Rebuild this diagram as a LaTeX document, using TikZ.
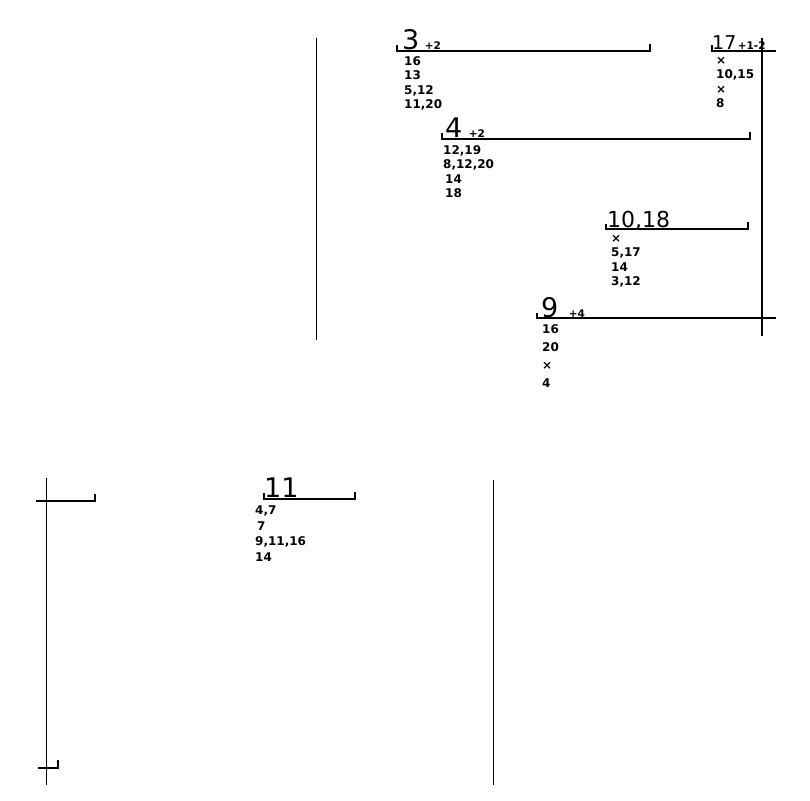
\documentclass[tikz,border=0pt]{standalone}
\usepackage{fontspec}
\setsansfont{DejaVu Sans}
\usetikzlibrary{positioning}

\begin{document}
\begin{tikzpicture}[
    x=1pt, y=1pt,
    bar/.style={line width=1.2pt},
    rule/.style={line width=1pt},
    heavy/.style={line width=2.6pt},
    big/.style={font=\sffamily\fontsize{27}{27}\selectfont, inner sep=0pt, anchor=base west},
    plus/.style={font=\sffamily\bfseries\fontsize{10.5}{10.5}\selectfont, inner sep=0pt, anchor=base west},
    items/.style={font=\sffamily\bfseries\fontsize{12}{14.5}\selectfont, inner sep=0pt, anchor=north west, align=left}
]
\useasboundingbox (0,0) rectangle (810,-800);

% === Bloque superior ===
\draw[rule] (316,-38) -- (316,-340);

% Grupo 3
\draw[bar] (397,-45) -- (397,-51) -- (650,-51) -- (650,-44);
\node[big] (g3) at (402,-49) {3};
\node[plus, right=5pt of g3.base east, anchor=base west] (g3p) {+2};
\node[items] (l3) at (404,-56) {16\\13\\5,12\\11,20};

% Grupo 17
\draw[bar] (712,-45) -- (712,-51) -- (776,-51);
\node[big, font=\sffamily\fontsize{19}{19}\selectfont] (g17) at (712,-49) {17};
\node[plus, right=1pt of g17.base east, anchor=base west] (g17p) {+1-2};
\node[items] (l17) at (716,-57) {×\\10,15\\×\\8};
\draw[heavy] (762,-38) -- (762,-336);

% Grupo 4
\draw[bar] (442,-133) -- (442,-139) -- (750,-139) -- (750,-132);
\node[big] (g4) at (445,-137) {4};
\node[plus, right=6pt of g4.base east, anchor=base west] (g4p) {+2};
\node[items] (l4) at (443,-145) {12,19\\8,12,20\\\,14\\\,18};

% Grupo 10,18
\draw[bar] (606,-224) -- (606,-229) -- (748,-229) -- (748,-222);
\node[big, font=\sffamily\fontsize{22}{22}\selectfont] (g10) at (607,-227) {10,18};
\node[items] (l10) at (611,-235) {×\\5,17\\14\\3,12};

% Grupo 9
\draw[bar] (537,-313) -- (537,-318) -- (776,-318);
\node[big] (g9) at (541,-317) {9};
\node[plus, right=10pt of g9.base east, anchor=base west] (g9p) {+4};
\node[items, font=\sffamily\bfseries\fontsize{12}{18}\selectfont] (l9) at (542,-324) {16\\20\\×\\4};

% === Bloque inferior ===
\draw[rule] (46,-478) -- (46,-785);
\draw[bar] (36,-501) -- (95,-501) -- (95,-494);
\draw[bar] (38,-768) -- (58,-768) -- (58,-760);

% Grupo 11
\draw[bar] (264,-493) -- (264,-499) -- (355,-499) -- (355,-492);
\node[big] (g11) at (264,-497) {11};
\node[items, font=\sffamily\bfseries\fontsize{12}{15.5}\selectfont] (l11) at (255,-506) {4,7\\\,7\\9,11,16\\14};

\draw[rule] (493,-480) -- (493,-785);

\end{tikzpicture}
\end{document}
